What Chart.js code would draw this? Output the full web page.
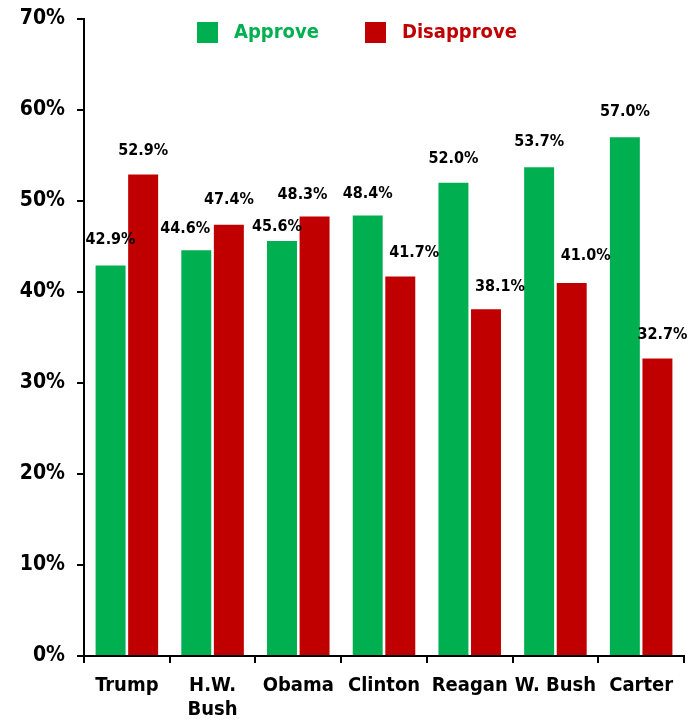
<!DOCTYPE html>
<html>
<head>
<meta charset="utf-8">
<script src="https://cdn.jsdelivr.net/npm/chart.js@4"></script>
<style>
  body { margin: 0; background: #fff; }
</style>
</head>
<body>
<canvas id="myChart" width="699" height="723"></canvas>
<script>
const presidents = ['Trump', ['H.W.', 'Bush'], 'Obama', 'Clinton', 'Reagan', 'W. Bush', 'Carter'];
const approve = [42.9, 44.6, 45.6, 48.4, 52.0, 53.7, 57.0];
const disapprove = [52.9, 47.4, 48.3, 41.7, 38.1, 41.0, 32.7];
const yTicks = [0, 10, 20, 30, 40, 50, 60, 70];

const GREEN = '#00B050';
const RED = '#C00000';
const FONT = "'Liberation Sans Narrow', 'DejaVu Sans Condensed', sans-serif";

// label nudges so neighbouring labels don't collide (dx, dy in px), per dataset
const nudge = [
    [[0, -2], [-11, 3], [-5, 10], [0, 2], [0, 0], [0, -1], [0, -1]],
    [[0, 0], [0, -1], [-12, 2], [14, 0], [14, 2], [14, -3], [5, 0]]
];

const valueLabels = {
    id: 'valueLabels',
    afterDatasetsDraw(chart) {
        const ctx = chart.ctx;
        ctx.save();
        ctx.font = 'bold 16px ' + FONT;
        ctx.fillStyle = '#000';
        ctx.textAlign = 'center';
        ctx.textBaseline = 'middle';
        chart.data.datasets.forEach((ds, i) => {
            chart.getDatasetMeta(i).data.forEach((bar, j) => {
                const n = nudge[i][j];
                ctx.fillText(ds.data[j].toFixed(1) + '%', bar.x + n[0], bar.y - 24 + n[1]);
            });
        });
        ctx.restore();
    }
};

const topLegend = {
    id: 'topLegend',
    afterDraw(chart) {
        const ctx = chart.ctx;
        ctx.save();
        ctx.font = 'bold 20px ' + FONT;
        ctx.textBaseline = 'middle';
        const xs = [197, 365];
        chart.data.datasets.forEach((ds, i) => {
            ctx.fillStyle = ds.backgroundColor;
            ctx.fillRect(xs[i], 22, 21, 21);
            ctx.fillText(ds.label, xs[i] + 37, 33);
        });
        ctx.restore();
    }
};

const chart = new Chart(document.getElementById('myChart').getContext('2d'), {
    type: 'bar',
    data: {
        labels: presidents,
        datasets: [
            { label: 'Approve', data: approve, backgroundColor: GREEN },
            { label: 'Disapprove', data: disapprove, backgroundColor: RED }
        ]
    },
    options: {
        responsive: false,
        animation: false,
        categoryPercentage: 0.76,
        barPercentage: 0.92,
        layout: { padding: { top: 19, right: 15, left: 0, bottom: 0 } },
        plugins: {
            legend: { display: false },
            tooltip: { enabled: false }
        },
        scales: {
            x: {
                grid: { display: true, drawOnChartArea: false, offset: true, color: '#000', lineWidth: 2, tickLength: 7 },
                border: { color: '#000', width: 2 },
                ticks: { color: '#000', font: { family: FONT, size: 20, weight: 'bold' }, padding: 11, maxRotation: 0, autoSkip: false },
                afterFit(scale) { scale.height = 67; }
            },
            y: {
                min: 0,
                max: 70,
                afterBuildTicks(scale) { scale.ticks = yTicks.map(v => ({ value: v })); },
                grid: { display: true, drawOnChartArea: false, color: '#000', lineWidth: 2, tickLength: 7 },
                border: { color: '#000', width: 2 },
                ticks: { color: '#000', font: { family: FONT, size: 21, weight: 'bold' }, padding: 12, callback: v => v + '%' },
                afterFit(scale) { scale.width = 84; scale.paddingTop = 0; scale.paddingBottom = 0; }
            }
        }
    },
    plugins: [valueLabels, topLegend]
});
</script>
</body>
</html>
